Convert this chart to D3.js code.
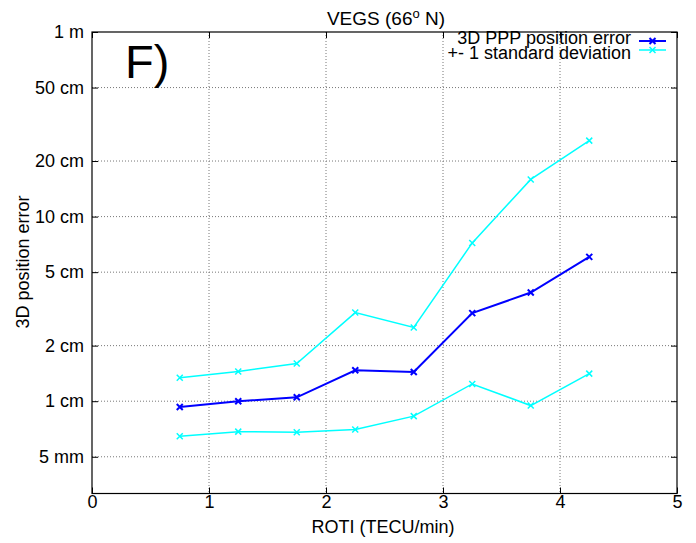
<!DOCTYPE html>
<html>
<head>
<meta charset="utf-8">
<script src="https://cdn.jsdelivr.net/npm/d3@7"></script>
<style>
  html, body { margin: 0; padding: 0; background: #fff; }
  svg { display: block; font-family: "Liberation Sans", Arial, sans-serif; }
</style>
</head>
<body>
<svg id="chart" width="696" height="543"></svg>
<script>
// ---- data (values in metres) ----
const roti = [0.75, 1.25, 1.75, 2.25, 2.75, 3.25, 3.75, 4.25];
const meanError = [0.0093, 0.0100, 0.0105, 0.0147, 0.0144, 0.0300, 0.0388, 0.0605];
const upperStd  = [0.0134, 0.0145, 0.0160, 0.0302, 0.0251, 0.0720, 0.159, 0.258];
const lowerStd  = [0.00646, 0.00684, 0.00679, 0.00702, 0.00830, 0.0124, 0.00947, 0.0141];
const yTickValues = [1, 0.5, 0.2, 0.1, 0.05, 0.02, 0.01, 0.005];
const yTickLabels = ["1 m", "50 cm", "20 cm", "10 cm", "5 cm", "2 cm", "1 cm", "5 mm"];
const xTickValues = [0, 1, 2, 3, 4, 5];
const legendLabels = ["3D PPP position error", "+- 1 standard deviation"];

const svg = d3.select("#chart");
const L = 92, R = 677, T = 32, B = 493.5;

const x = d3.scaleLinear().domain([0, 5]).range([L, R]);
const y = d3.scaleLog().domain([Math.pow(10, -2.5), 1]).range([B, T]);

const blue = "#0000ff", cyan = "#00ffff";

// grid
const grid = svg.append("g");
grid.selectAll("line.gy").data(yTickValues.filter(v => v < 1)).enter().append("line")
  .attr("x1", L).attr("x2", R).attr("y1", d => y(d)).attr("y2", d => y(d))
  .attr("stroke", "#777").attr("stroke-width", 1).attr("stroke-dasharray", "1,2");
grid.selectAll("line.gx").data(xTickValues.filter(v => v > 0 && v < 5)).enter().append("line")
  .attr("x1", d => x(d)).attr("x2", d => x(d)).attr("y1", T).attr("y2", B)
  .attr("stroke", "#777").attr("stroke-width", 1).attr("stroke-dasharray", "1,2");

// axes
const yAxisL = d3.axisLeft(y).tickValues(yTickValues).tickFormat((d, i) => yTickLabels[i]).tickSizeInner(-6).tickSizeOuter(0).tickPadding(8);
const yAxisR = d3.axisRight(y).tickValues(yTickValues).tickFormat("").tickSizeInner(-6).tickSizeOuter(0);
const xAxisB = d3.axisBottom(x).tickValues(xTickValues).tickFormat(d3.format("d")).tickSizeInner(-6).tickSizeOuter(0).tickPadding(2);
const xAxisT = d3.axisTop(x).tickValues(xTickValues).tickFormat("").tickSizeInner(-6).tickSizeOuter(0);

function styleAxis(g) {
  g.select(".domain").remove();
  g.selectAll("line").attr("stroke", "#000");
  g.selectAll("text").attr("font-size", 18).attr("fill", "#000")
    .attr("font-family", "'Liberation Sans', Arial, sans-serif");
}
svg.append("g").attr("transform", `translate(${L},0)`).call(yAxisL).call(styleAxis);
svg.append("g").attr("transform", `translate(${R},0)`).call(yAxisR).call(styleAxis);
svg.append("g").attr("transform", `translate(0,${B})`).call(xAxisB).call(styleAxis);
svg.append("g").attr("transform", `translate(0,${T})`).call(xAxisT).call(styleAxis);

// border
svg.append("rect").attr("x", L).attr("y", T).attr("width", R - L).attr("height", B - T)
  .attr("fill", "none").attr("stroke", "#000").attr("stroke-width", 1.2);

// series
const line = d3.line().x((d, i) => x(roti[i])).y(d => y(d));
function drawSeries(vals, color, w) {
  svg.append("path").datum(vals).attr("d", line).attr("fill", "none")
    .attr("stroke", color).attr("stroke-width", w);
  const s = 3;
  const g = svg.append("g");
  vals.forEach((v, i) => {
    const cx = x(roti[i]), cy = y(v);
    g.append("path")
      .attr("d", `M${cx - s},${cy - s}L${cx + s},${cy + s}M${cx - s},${cy + s}L${cx + s},${cy - s}`)
      .attr("stroke", color).attr("stroke-width", w);
  });
}
drawSeries(upperStd, cyan, 1.5);
drawSeries(lowerStd, cyan, 1.5);
drawSeries(meanError, blue, 2);

// legend
const legend = svg.append("g");
[[legendLabels[0], blue, 44, 41, 2], [legendLabels[1], cyan, 59, 50, 1.5]].forEach(([t, c, ty, ly, w]) => {
  legend.append("text").attr("x", 631).attr("y", ty).attr("text-anchor", "end")
    .attr("font-size", 18).attr("fill", "#000").text(t);
  legend.append("line").attr("x1", 639).attr("x2", 666).attr("y1", ly).attr("y2", ly)
    .attr("stroke", c).attr("stroke-width", w);
  legend.append("path")
    .attr("d", `M${652.5 - 3},${ly - 3}L${652.5 + 3},${ly + 3}M${652.5 - 3},${ly + 3}L${652.5 + 3},${ly - 3}`)
    .attr("stroke", c).attr("stroke-width", w);
});

// panel letter
svg.append("text").attr("x", 125).attr("y", 78).attr("font-size", 47).attr("fill", "#000").text("F)");

// title
const title = svg.append("text").attr("x", 386).attr("y", 25).attr("text-anchor", "middle")
  .attr("font-size", 19).attr("fill", "#000");
title.append("tspan").text("VEGS (66");
title.append("tspan").attr("font-size", 13).attr("dy", -7).text("o");
title.append("tspan").attr("dy", 7).text(" N)");

// axis labels
svg.append("text").attr("x", 383).attr("y", 533).attr("text-anchor", "middle")
  .attr("font-size", 18).attr("fill", "#000").text("ROTI (TECU/min)");
svg.append("text").attr("transform", "translate(29,262) rotate(-90)").attr("text-anchor", "middle")
  .attr("font-size", 18).attr("fill", "#000").text("3D position error");
</script>
</body>
</html>
